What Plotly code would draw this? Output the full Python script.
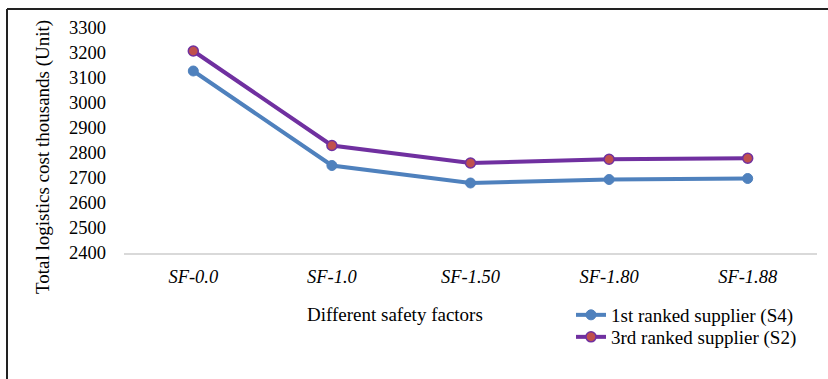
import plotly.graph_objects as go

categories = ["SF-0.0", "SF-1.0", "SF-1.50", "SF-1.80", "SF-1.88"]
s4_values = [3128, 2750, 2680, 2694, 2698]
s2_values = [3208, 2830, 2760, 2775, 2779]
y_ticks = [2400, 2500, 2600, 2700, 2800, 2900, 3000, 3100, 3200, 3300]

FONT = "Liberation Serif"
FS = 19
TFS = 18.5
W, H = 828, 379
L, R, T, B = 124, 11, 28, 126
pw, ph = W - L - R, H - T - B

def px(x):
    return (x - L) / pw

def py(y):
    return (H - B - y) / ph

fig = go.Figure()
fig.add_trace(go.Scatter(
    x=categories, y=s4_values, mode="lines+markers",
    name="1st ranked supplier (S4)", legend="legend",
    line=dict(color="#4F81BD", width=4),
    marker=dict(size=10, color="#4F81BD", line=dict(color="#4F81BD", width=1)),
))
fig.add_trace(go.Scatter(
    x=categories, y=s2_values, mode="lines+markers",
    name="3rd ranked supplier (S2)", legend="legend2",
    line=dict(color="#7030A0", width=4),
    marker=dict(size=10, color="#C0504D", line=dict(color="#7030A0", width=1.5)),
))

legend_common = dict(xanchor="left", yanchor="middle",
                     font=dict(family=FONT, size=FS, color="black"),
                     bgcolor="rgba(0,0,0,0)", itemwidth=30)

fig.update_layout(
    width=W, height=H,
    margin=dict(l=L, r=R, t=T, b=B, pad=0),
    paper_bgcolor="white", plot_bgcolor="white",
    font=dict(family=FONT, size=FS, color="black"),
    showlegend=True,
    legend=dict(x=px(571), y=py(315), **legend_common),
    legend2=dict(x=px(571), y=py(337), **legend_common),
    xaxis=dict(
        type="category", range=[-0.5, 4.5], showgrid=False,
        showline=True, linecolor="#D9D9D9", linewidth=2,
        ticks="", tickfont=dict(family=FONT, size=TFS, style="italic"),
        ticklabelstandoff=6, zeroline=False,
    ),
    yaxis=dict(
        range=[2400, 3300], tickvals=y_ticks, showgrid=False,
        showline=False, zeroline=False, ticks="",
        tickfont=dict(family=FONT, size=TFS), ticklabelstandoff=17,
    ),
    annotations=[
        dict(text="Total logistics cost thousands (Unit)", textangle=-90,
             xref="paper", yref="paper", x=px(43), y=py(157),
             xanchor="center", yanchor="middle", showarrow=False,
             font=dict(family=FONT, size=FS)),
        dict(text="Different safety factors",
             xref="paper", yref="paper", x=px(395), y=py(314),
             xanchor="center", yanchor="middle", showarrow=False,
             font=dict(family=FONT, size=FS)),
    ],
    shapes=[
        dict(type="line", xref="paper", yref="paper",
             x0=px(7), x1=px(7), y0=py(9), y1=py(385),
             line=dict(color="#222222", width=2)),
        dict(type="line", xref="paper", yref="paper",
             x0=px(7), x1=px(835), y0=py(9), y1=py(9),
             line=dict(color="#222222", width=2)),
    ],
)

fig.write_html("out.html", config={"displayModeBar": False},
               post_script="document.body.style.margin='0';")
